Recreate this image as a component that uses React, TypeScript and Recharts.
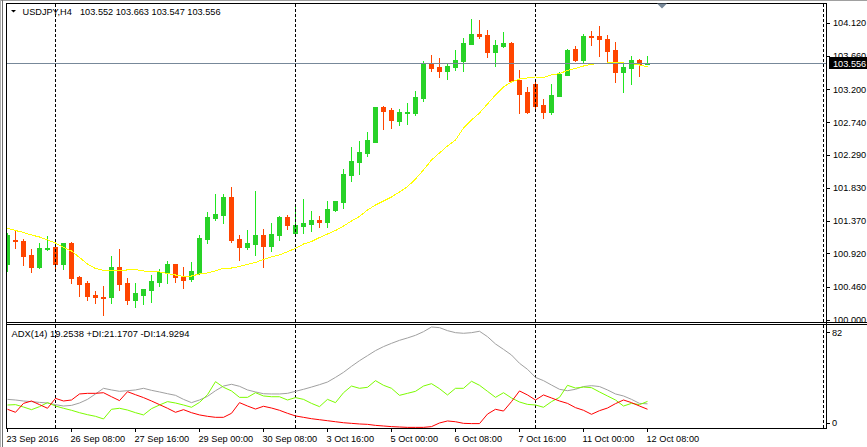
import React from 'react';
import { ComposedChart, Bar, Line, XAxis, YAxis, ReferenceLine } from 'recharts';

// ---- data (USDJPY H4, 23 Sep 2016 00:00 .. 12 Oct 2016 08:00) ----
const open = [100.769, 101.099, 101.092, 100.898, 100.735, 100.981, 101.013, 100.777, 101.064, 100.592,
  100.509, 100.343, 100.315, 100.311, 100.731, 100.509, 100.273, 100.343, 100.412, 100.523,
  100.652, 100.773, 100.606, 100.560, 100.652, 101.120, 101.415, 101.457, 101.706, 101.120,
  101.013, 101.050, 101.175, 101.027, 101.175, 101.425, 101.207, 101.300, 101.328, 101.383,
  101.360, 101.522, 101.637, 102.007, 102.188, 102.317, 102.469, 102.951, 102.909, 102.757,
  102.872, 102.867, 103.075, 103.547, 103.506, 103.450, 103.506, 103.589, 103.829, 103.963,
  103.949, 103.714, 103.797, 103.838, 103.325, 103.159, 103.270, 102.978, 102.881, 103.103,
  103.395, 103.755, 103.603, 103.940, 103.935, 103.894, 103.741, 103.436, 103.492, 103.603,
  103.552];
const high = [101.203, 101.244, 101.120, 100.981, 101.068, 101.161, 101.046, 101.066, 101.078, 100.610,
  100.541, 100.402, 100.468, 100.884, 100.977, 100.574, 100.509, 100.426, 100.620, 100.703,
  100.814, 100.778, 100.727, 100.805, 101.175, 101.494, 101.744, 101.744, 101.845, 101.175,
  101.244, 101.785, 101.258, 101.346, 101.439, 101.452, 101.605, 101.674, 101.508, 101.439,
  101.647, 101.650, 102.091, 102.396, 102.479, 102.604, 102.955, 102.965, 102.937, 102.923,
  103.006, 103.173, 103.589, 103.672, 103.630, 103.561, 103.741, 103.908, 104.171, 104.157,
  104.019, 103.880, 103.991, 103.852, 103.464, 103.228, 103.325, 103.062, 103.270, 103.436,
  103.755, 103.790, 103.963, 104.005, 104.074, 103.956, 103.852, 103.554, 103.658, 103.617,
  103.663];
const low = [100.680, 100.990, 100.759, 100.666, 100.721, 100.967, 100.690, 100.703, 100.505, 100.333,
  100.273, 100.236, 100.065, 100.228, 100.412, 100.218, 100.180, 100.218, 100.250, 100.472,
  100.513, 100.527, 100.444, 100.541, 100.634, 101.068, 101.383, 101.346, 101.082, 100.828,
  100.977, 100.898, 100.735, 100.957, 101.106, 101.258, 101.185, 101.207, 101.235, 101.286,
  101.286, 101.508, 101.554, 101.924, 102.021, 102.271, 102.465, 102.650, 102.659, 102.701,
  102.715, 102.840, 103.034, 103.450, 103.367, 103.339, 103.464, 103.450, 103.825, 103.908,
  103.644, 103.519, 103.783, 103.298, 102.867, 102.867, 102.937, 102.798, 102.854, 103.103,
  103.395, 103.589, 103.575, 103.811, 103.658, 103.575, 103.298, 103.159, 103.270, 103.381,
  103.547];
const close = [101.175, 101.085, 100.888, 100.735, 100.990, 100.990, 100.777, 101.064, 100.583, 100.499,
  100.333, 100.319, 100.305, 100.731, 100.495, 100.273, 100.370, 100.426, 100.537, 100.666,
  100.773, 100.597, 100.551, 100.676, 101.133, 101.425, 101.471, 101.706, 101.106, 101.013,
  101.064, 101.175, 101.027, 101.189, 101.425, 101.318, 101.314, 101.341, 101.387, 101.360,
  101.536, 101.647, 102.021, 102.202, 102.326, 102.493, 102.951, 102.899, 102.770, 102.881,
  102.881, 103.089, 103.547, 103.492, 103.450, 103.519, 103.603, 103.838, 103.963, 103.935,
  103.714, 103.811, 103.838, 103.311, 103.131, 102.881, 102.965, 102.881, 103.117, 103.408,
  103.741, 103.603, 103.935, 103.922, 103.894, 103.727, 103.436, 103.506, 103.603, 103.547,
  103.556];
const movingAvg = [101.268, 101.237, 101.210, 101.175, 101.147, 101.106, 101.064, 101.002, 100.953, 100.863,
  100.773, 100.710, 100.683, 100.676, 100.683, 100.690, 100.696, 100.676, 100.669, 100.662,
  100.641, 100.620, 100.599, 100.606, 100.634, 100.648, 100.676, 100.713, 100.717, 100.738,
  100.766, 100.794, 100.835, 100.870, 100.898, 100.943, 100.990, 101.050, 101.085, 101.140,
  101.189, 101.237, 101.300, 101.369, 101.432, 101.522, 101.591, 101.647, 101.702, 101.772,
  101.845, 101.952, 102.077, 102.215, 102.313, 102.410, 102.493, 102.659, 102.770, 102.867,
  102.992, 103.117, 103.228, 103.298, 103.339, 103.353, 103.367, 103.360, 103.395, 103.415,
  103.457, 103.485, 103.519, 103.543, 103.554, 103.561, 103.565, 103.561, 103.554, 103.533,
  103.510];
const adx = [22.8, 22.3, 21.5, 21.0, 20.4, 19.9, 18.6, 17.5, 18.0, 19.9,
  22.8, 27.1, 31.6, 30.3, 29.2, 29.7, 30.3, 31.6, 30.0, 28.7,
  27.3, 26.0, 22.8, 20.2, 22.3, 25.2, 29.7, 33.4, 34.8, 33.2,
  30.3, 28.7, 27.3, 27.1, 27.1, 27.6, 29.2, 30.8, 32.6, 34.5,
  36.6, 40.3, 44.3, 49.1, 53.6, 57.6, 61.6, 64.8, 67.4, 69.8,
  71.7, 73.8, 76.7, 80.4, 79.9, 77.5, 75.9, 75.4, 75.9, 77.0,
  72.7, 66.9, 62.6, 58.1, 51.5, 46.7, 40.3, 37.7, 34.2, 30.8,
  29.7, 30.8, 33.0, 33.7, 33.0, 30.3, 27.1, 25.5, 22.8, 19.6,
  19.2538];
const plusDI = [18.3, 18.6, 16.7, 14.6, 17.0, 20.2, 17.5, 15.7, 14.1, 12.2,
  10.6, 9.3, 7.2, 14.9, 15.7, 14.3, 12.2, 10.4, 15.4, 18.3,
  21.0, 19.9, 18.3, 16.5, 20.4, 26.5, 36.9, 32.4, 29.5, 24.4,
  24.4, 28.1, 25.5, 24.9, 24.9, 22.3, 24.2, 22.8, 19.6, 17.0,
  22.8, 20.2, 28.1, 33.4, 31.6, 32.4, 37.7, 34.0, 31.6, 26.0,
  27.6, 29.2, 33.4, 35.3, 31.3, 26.3, 31.6, 31.6, 37.2, 34.0,
  29.2, 24.4, 28.1, 23.9, 20.7, 18.8, 18.3, 16.5, 21.0, 24.4,
  34.0, 31.8, 32.6, 32.1, 28.7, 25.5, 22.3, 17.5, 19.6, 18.6,
  21.1707];
const minusDI = [14.9, 12.5, 19.6, 21.5, 18.6, 15.7, 23.6, 21.5, 22.3, 27.1,
  27.6, 27.6, 28.1, 24.9, 21.8, 28.9, 26.5, 24.2, 21.5, 18.6,
  15.7, 12.5, 14.6, 12.2, 10.4, 9.3, 8.5, 8.5, 11.7, 20.2,
  17.5, 15.1, 17.3, 15.9, 14.1, 11.7, 9.6, 8.5, 7.4, 6.6,
  5.8, 5.0, 4.2, 3.7, 3.2, 2.9, 2.1, 1.6, 1.1, 0.8,
  0.5, 0.5, 0.5, 1.1, 4.0, 5.6, 5.0, 3.7, 3.5, 3.5,
  11.1, 14.9, 13.5, 21.0, 29.5, 26.3, 22.3, 26.3, 23.9, 21.5,
  19.6, 16.2, 14.1, 10.9, 13.8, 15.9, 19.4, 22.3, 20.2, 17.5,
  14.9294];

const priceTicks = [100.0, 100.46, 100.92, 101.37, 101.83, 102.29, 102.74, 103.2, 103.66, 104.12];
const adxTicks = [0, 82];
const timeTickIdx = [0, 8, 16, 24, 32, 40, 48, 56, 64, 72, 80];
const timeLabels = ['23 Sep 2016', '26 Sep 08:00', '27 Sep 16:00', '29 Sep 00:00', '30 Sep 08:00',
  '3 Oct 16:00', '5 Oct 00:00', '6 Oct 08:00', '7 Oct 16:00', '11 Oct 00:00', '12 Oct 08:00'];
const weekSeparators = [6, 36, 66];
const edgeSeparator = 102;
const symbolLabel = 'USDJPY,H4';
const adxPeriod = 14;
const bidPrice = 103.556;

// ---- layout / style ----
const W = 867;
const X_DOMAIN: [number, number] = [-0.1875, 102.3125];
const PRICE_DOMAIN: [number, number] = [99.968, 104.393];
const FONT = 'Liberation Sans, Arial, sans-serif';
const FS = 9.2;
const BULL_BODY = '#28d228';
const BULL_WICK = '#20e620';
const BEAR = '#ff4500';

const last = open.length - 1;
const candleData = open.map((o, i) => ({
  i, o, h: high[i], l: low[i], c: close[i], range: [low[i], high[i]], ma: movingAvg[i],
}));
const adxData = adx.map((v, i) => ({ i, adx: v, pdi: plusDI[i], mdi: minusDI[i] }));

const Candle = (props: any) => {
  const { x, y, width, height, payload } = props;
  if (!payload || height == null) return null;
  const { o, h, l, c } = payload;
  const span = h - l;
  const ppu = span > 0 ? height / span : 0;
  const py = (v: number) => y + (h - v) * ppu;
  const cx = x + width / 2;
  const bull = c >= o;
  const yH = Math.round(py(h));
  const yL = Math.round(py(l));
  const yT = Math.round(py(Math.max(o, c)));
  const yB = Math.round(py(Math.min(o, c)));
  return (
    <g shapeRendering="crispEdges">
      <rect x={cx - 0.5} y={yH} width={1} height={Math.max(1, yL - yH + 1)} fill={bull ? BULL_WICK : BEAR} />
      <rect x={cx - 2.5} y={yT} width={5} height={Math.max(1, yB - yT + 1)} fill={bull ? BULL_BODY : BEAR} />
    </g>
  );
};

const PriceTick = (props: any) => {
  const { x, y, payload } = props;
  const v = payload.value as number;
  if (Math.abs(v - bidPrice) < 1e-9) {
    return (
      <g>
        <rect x={x + 3} y={Math.round(y) - 6} width={38} height={12} fill="#000" shapeRendering="crispEdges" />
        <text x={x + 7} y={y + 3.5} fontSize={FS} fontFamily={FONT} fill="#fff">{v.toFixed(3)}</text>
      </g>
    );
  }
  return (
    <g>
      <rect x={x + 1} y={Math.round(y)} width={3} height={1} fill="#000" shapeRendering="crispEdges" />
      <text x={x + 7} y={y + 3.5} fontSize={FS} fontFamily={FONT} fill="#000">{v.toFixed(3)}</text>
    </g>
  );
};

const AdxTick = (props: any) => {
  const { x, y, payload } = props;
  const v = payload.value as number;
  const ly = v === 0 ? y - 5.5 : y + 7;
  return (
    <g>
      <rect x={x + 1} y={Math.round(ly)} width={3} height={1} fill="#000" shapeRendering="crispEdges" />
      <text x={x + 6} y={ly + 3.5} fontSize={FS} fontFamily={FONT} fill="#000">{String(v)}</text>
    </g>
  );
};

const TimeTick = (props: any) => {
  const { x, y, payload } = props;
  const k = timeTickIdx.indexOf(payload.value);
  return (
    <g>
      <rect x={x - 0.5} y={y + 1} width={1} height={3} fill="#000" shapeRendering="crispEdges" />
      <text x={x - 1} y={y + 14} fontSize={FS} fontFamily={FONT} fill="#000">{k >= 0 ? timeLabels[k] : ''}</text>
    </g>
  );
};

export default function App() {
  const header = `${open[last].toFixed(3)} ${high[last].toFixed(3)} ${low[last].toFixed(3)} ${close[last].toFixed(3)}`;
  const adxHeader = `ADX(${adxPeriod}) ${adx[last].toFixed(4)} +DI:${plusDI[last].toFixed(4)} -DI:${minusDI[last].toFixed(4)}`;
  return (
    <div style={{ position: 'absolute', left: 0, top: 0, width: W, height: 447, background: '#fff', overflow: 'hidden' }}>
      <div style={{ position: 'absolute', left: 0, top: 0 }}>
        <ComposedChart width={W} height={323} data={candleData} margin={{ top: 3, right: 0, bottom: 1, left: 6 }}>
          <XAxis dataKey="i" type="number" domain={X_DOMAIN} allowDataOverflow hide />
          <YAxis orientation="right" width={41} type="number" domain={PRICE_DOMAIN} allowDataOverflow
            ticks={[...priceTicks, bidPrice]} interval={0} tick={<PriceTick />} tickLine={false} axisLine={false}
            tickSize={0} tickMargin={0} />
          {weekSeparators.map((s) => (
            <ReferenceLine key={s} x={s} stroke="#000" strokeDasharray="3 2" shapeRendering="crispEdges" />
          ))}
          <ReferenceLine x={edgeSeparator} stroke="#000" strokeDasharray="3 2" shapeRendering="crispEdges" />
          <Bar dataKey="range" barSize={5} shape={Candle} isAnimationActive={false} />
          <Line dataKey="ma" type="linear" stroke="#ffff00" strokeWidth={1} dot={false} activeDot={false}
            isAnimationActive={false} shapeRendering="crispEdges" />
          <ReferenceLine y={bidPrice} stroke="#778899" shapeRendering="crispEdges" />
        </ComposedChart>
      </div>
      <div style={{ position: 'absolute', left: 0, top: 324 }}>
        <ComposedChart width={W} height={123} data={adxData} margin={{ top: 1, right: 0, bottom: 0, left: 6 }}>
          <XAxis dataKey="i" type="number" domain={X_DOMAIN} allowDataOverflow ticks={timeTickIdx} interval={0}
            height={19} tick={<TimeTick />} tickLine={false} axisLine={false} tickSize={0} tickMargin={0} />
          <YAxis orientation="right" width={41} type="number" domain={[0, 82]} allowDataOverflow ticks={adxTicks}
            interval={0} tick={<AdxTick />} tickLine={false} axisLine={false} tickSize={0} tickMargin={0} />
          {weekSeparators.map((s) => (
            <ReferenceLine key={s} x={s} stroke="#000" strokeDasharray="3 2" shapeRendering="crispEdges" />
          ))}
          <ReferenceLine x={edgeSeparator} stroke="#000" strokeDasharray="3 2" shapeRendering="crispEdges" />
          <Line dataKey="adx" type="linear" stroke="#a0a0a0" strokeWidth={1} dot={false} activeDot={false}
            isAnimationActive={false} />
          <Line dataKey="pdi" type="linear" stroke="#7cfc00" strokeWidth={1} dot={false} activeDot={false}
            isAnimationActive={false} />
          <Line dataKey="mdi" type="linear" stroke="#ff0000" strokeWidth={1} dot={false} activeDot={false}
            isAnimationActive={false} />
        </ComposedChart>
      </div>
      <svg width={W} height={447} style={{ position: 'absolute', left: 0, top: 0, pointerEvents: 'none' }}>
        <g shapeRendering="crispEdges">
          <rect x={0} y={0} width={W} height={1} fill="#a0a0a0" />
          <rect x={0} y={0} width={1} height={447} fill="#b0b0b0" />
          <rect x={2} y={0} width={1} height={447} fill="#707070" />
          <rect x={6} y={3} width={821} height={1} fill="#000" />
          <rect x={6} y={3} width={1} height={426} fill="#000" />
          <rect x={826} y={3} width={1} height={426} fill="#000" />
          <rect x={6} y={322} width={861} height={1} fill="#000" />
          <rect x={6} y={324} width={861} height={1} fill="#000" />
          <rect x={6} y={428} width={821} height={1} fill="#000" />
        </g>
        <polygon points="657,3.5 667,3.5 662,8.5" fill="#778899" />
        <polygon points="11,10 16,10 13.5,12.5" fill="#000" />
        <text x={22.5} y={15.3} fontSize={FS} fontFamily={FONT} fill="#000">{symbolLabel}</text>
        <text x={80} y={15.3} fontSize={FS} fontFamily={FONT} fill="#000">{header}</text>
        <text x={11.5} y={337} fontSize={9.4} fontFamily={FONT} fill="#000">{adxHeader}</text>
      </svg>
    </div>
  );
}
